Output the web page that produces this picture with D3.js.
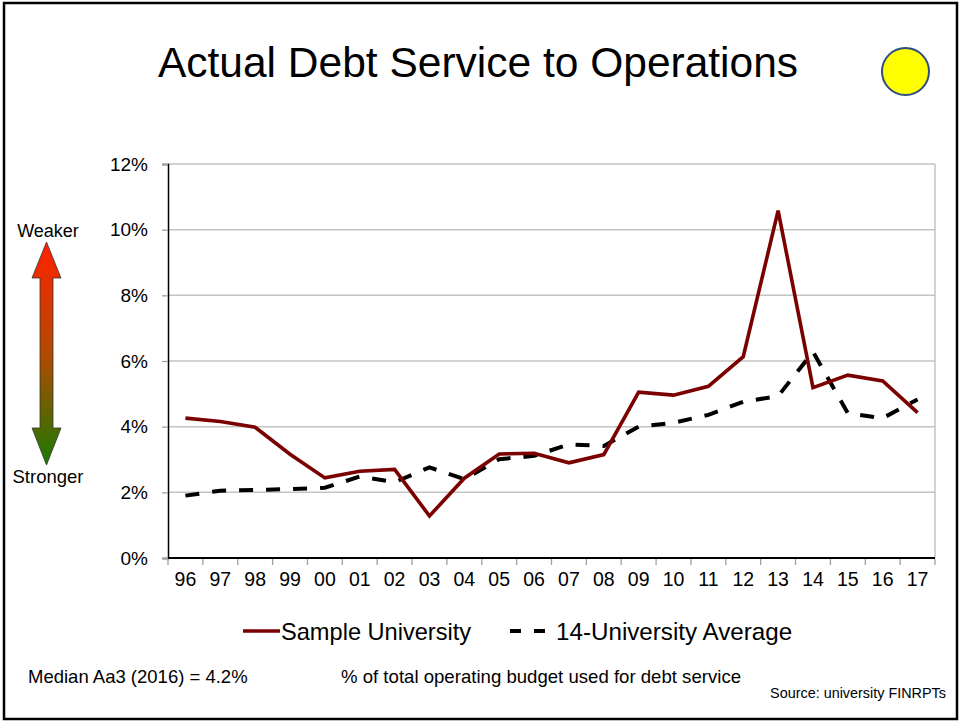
<!DOCTYPE html>
<html>
<head>
<meta charset="utf-8">
<script src="https://cdn.jsdelivr.net/npm/d3@7/dist/d3.min.js"></script>
<style>
  html, body { margin: 0; padding: 0; background: #fff; }
  svg { display: block; font-family: "Liberation Sans", Arial, sans-serif; }
</style>
</head>
<body>
<svg id="chart" width="960" height="721"></svg>
<script>
// Fiscal years (two-digit labels)
const years = ["96","97","98","99","00","01","02","03","04","05","06","07","08","09","10","11","12","13","14","15","16","17"];
// Debt service as % of operations
const sampleUniversity = [4.26,4.16,3.98,3.16,2.44,2.64,2.70,1.28,2.43,3.17,3.19,2.90,3.15,5.05,4.96,5.23,6.13,10.58,5.19,5.57,5.39,4.43];
const peerAverage      = [1.90,2.05,2.07,2.10,2.14,2.48,2.31,2.76,2.40,3.01,3.11,3.46,3.41,4.00,4.12,4.36,4.76,4.93,6.28,4.41,4.26,4.83];
const yTicks = [0,2,4,6,8,10,12];
const seriesNames = ["Sample University", "14-University Average"];

const svg = d3.select("#chart");
const W = 960, H = 721;
const plot = { left: 168, right: 935, top: 164, bottom: 558 };

// Outer frame
svg.append("rect")
  .attr("x", 4).attr("y", 3).attr("width", W - 7).attr("height", H - 5)
  .attr("fill", "#fff").attr("stroke", "#000").attr("stroke-width", 2.5);

// Title
svg.append("text")
  .attr("x", 478).attr("y", 77)
  .attr("text-anchor", "middle")
  .style("font-size", "42.5px")
  .text("Actual Debt Service to Operations");

// Status indicator
svg.append("circle")
  .attr("cx", 905.5).attr("cy", 71.5).attr("r", 23.5)
  .attr("fill", "#ffff00").attr("stroke", "#2e4d80").attr("stroke-width", 2);

const x = d3.scaleBand().domain(years).range([plot.left, plot.right]).padding(0);
const y = d3.scaleLinear().domain([0, 12]).range([plot.bottom, plot.top]);

// Horizontal gridlines
svg.append("g")
  .selectAll("line")
  .data(yTicks.filter(d => d > 0))
  .join("line")
  .attr("x1", plot.left).attr("x2", plot.right)
  .attr("y1", d => y(d)).attr("y2", d => y(d))
  .attr("stroke", "#c4c4c4").attr("stroke-width", 1.5);

// Right plot edge
svg.append("line")
  .attr("x1", plot.right).attr("x2", plot.right)
  .attr("y1", plot.top).attr("y2", plot.bottom)
  .attr("stroke", "#c4c4c4").attr("stroke-width", 1.5);

// Y axis
const yAxis = svg.append("g")
  .attr("transform", `translate(${plot.left},0)`)
  .call(d3.axisLeft(y).tickValues(yTicks).tickFormat(d => d + "%").tickSize(6).tickPadding(14));
yAxis.select(".domain").attr("stroke", "#000").attr("stroke-width", 1.5);
yAxis.selectAll(".tick line").attr("stroke", "#a0a0a0").attr("stroke-width", 1.3);
yAxis.selectAll(".tick text")
  .attr("fill", "#000")
  .style("font-size", "19px")
  .style("font-family", "'Liberation Sans', Arial, sans-serif");

// X axis: ticks on category boundaries
const xAxisG = svg.append("g").attr("transform", `translate(0,${plot.bottom})`);
xAxisG.append("line")
  .attr("x1", plot.left).attr("x2", plot.right)
  .attr("stroke", "#000").attr("stroke-width", 1.8);
const boundaries = years.map(d => x(d)).concat([x(years[years.length - 1]) + x.bandwidth()]);
xAxisG.selectAll("line.tk")
  .data(boundaries)
  .join("line").attr("class", "tk")
  .attr("x1", d => d).attr("x2", d => d)
  .attr("y1", 1).attr("y2", 7)
  .attr("stroke", "#a0a0a0").attr("stroke-width", 1.3);
xAxisG.selectAll("text")
  .data(years)
  .join("text")
  .attr("x", d => x(d) + x.bandwidth() / 2)
  .attr("y", 28)
  .attr("text-anchor", "middle")
  .style("font-size", "19.5px")
  .text(d => d);

const cx = d => x(d) + x.bandwidth() / 2;

// Peer average line (dashed)
const line = d3.line().x((v, i) => cx(years[i])).y(v => y(v));
svg.append("path")
  .datum(peerAverage)
  .attr("d", line)
  .attr("fill", "none")
  .attr("stroke", "#000")
  .attr("stroke-width", 4)
  .attr("stroke-dasharray", "14,13");

// Sample university line
svg.append("path")
  .datum(sampleUniversity)
  .attr("d", line)
  .attr("fill", "none")
  .attr("stroke", "#7b0000")
  .attr("stroke-width", 3.6)
  .attr("stroke-linejoin", "miter");

// Legend
const lg = svg.append("g");
lg.append("line")
  .attr("x1", 243).attr("x2", 280).attr("y1", 631).attr("y2", 631)
  .attr("stroke", "#7b0000").attr("stroke-width", 3.6);
lg.append("text")
  .attr("x", 281).attr("y", 640)
  .style("font-size", "23.6px")
  .text(seriesNames[0]);
lg.append("line")
  .attr("x1", 510).attr("x2", 545).attr("y1", 631).attr("y2", 631)
  .attr("stroke", "#000").attr("stroke-width", 4)
  .attr("stroke-dasharray", "11,13");
lg.append("text")
  .attr("x", 556).attr("y", 640)
  .style("font-size", "24.2px")
  .text(seriesNames[1]);

// Strength indicator arrow
const defs = svg.append("defs");
const grad = defs.append("linearGradient")
  .attr("id", "arrowGrad")
  .attr("x1", 0).attr("y1", 0).attr("x2", 0).attr("y2", 1);
grad.append("stop").attr("offset", "0%").attr("stop-color", "#ff2200");
grad.append("stop").attr("offset", "50%").attr("stop-color", "#b34a00");
grad.append("stop").attr("offset", "100%").attr("stop-color", "#1a7a00");

const ax = 46.5, shaftHalf = 6.5, headHalf = 14.5;
const arrowPts = [
  [ax, 242], [ax + headHalf, 278], [ax + shaftHalf, 278], [ax + shaftHalf, 428],
  [ax + headHalf, 428], [ax, 465], [ax - headHalf, 428], [ax - shaftHalf, 428],
  [ax - shaftHalf, 278], [ax - headHalf, 278]
];
svg.append("path")
  .attr("d", d3.line()(arrowPts) + "Z")
  .attr("fill", "url(#arrowGrad)")
  .attr("stroke", "#333").attr("stroke-width", 0.8);

svg.append("text").attr("x", 48).attr("y", 237).attr("text-anchor", "middle")
  .style("font-size", "18px").text("Weaker");
svg.append("text").attr("x", 48).attr("y", 483).attr("text-anchor", "middle")
  .style("font-size", "18.5px").text("Stronger");

// Footnotes
svg.append("text").attr("x", 28).attr("y", 683)
  .style("font-size", "18.5px").text("Median Aa3 (2016) = 4.2%");
svg.append("text").attr("x", 341).attr("y", 683)
  .style("font-size", "18.6px").text("% of total operating budget used for debt service");
svg.append("text").attr("x", 946).attr("y", 698).attr("text-anchor", "end")
  .style("font-size", "14.4px").text("Source: university FINRPTs");
</script>
</body>
</html>
